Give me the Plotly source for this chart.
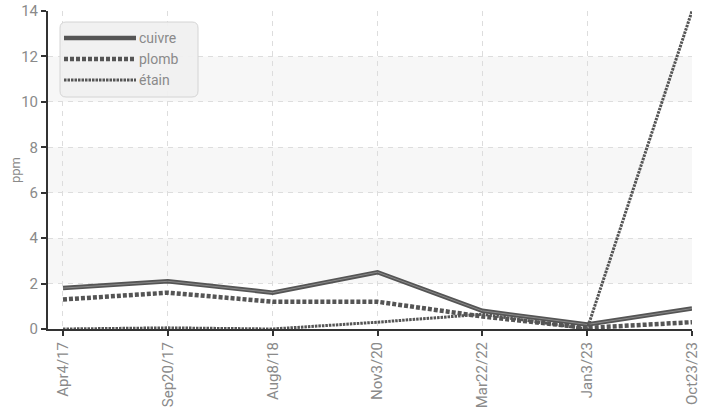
import plotly.graph_objects as go

dates = ["Apr4/17", "Sep20/17", "Aug8/18", "Nov3/20", "Mar22/22", "Jan3/23", "Oct23/23"]
cuivre = [1.8, 2.1, 1.6, 2.5, 0.8, 0.2, 0.9]
plomb = [1.3, 1.6, 1.2, 1.2, 0.55, 0.05, 0.3]
etain = [0.0, 0.05, 0.0, 0.3, 0.65, 0.0, 14.0]
y_ticks = [0, 2, 4, 6, 8, 10, 12, 14]
bands = [(2, 4), (6, 8), (10, 12)]

FONT = "Roboto, sans-serif"
DARK = "#555555"
GREY_TXT = "#8a8a8a"
GRID = "#dddddd"

CUIVRE_LINE = dict(color=DARK, width=4.5)
PLOMB_LINE = dict(color=DARK, width=4.5, dash="4px,2px")
ETAIN_LINE = dict(color=DARK, width=3, dash="2.5px,1px")

fig = go.Figure()
fig.add_trace(go.Scatter(x=dates, y=cuivre, mode="lines", line=CUIVRE_LINE, name="cuivre"))
fig.add_trace(go.Scatter(x=dates, y=cuivre, mode="lines", line=dict(color="#8a8a8a", width=1), hoverinfo="skip"))
fig.add_trace(go.Scatter(x=dates, y=plomb, mode="lines", line=PLOMB_LINE, name="plomb"))
fig.add_trace(go.Scatter(x=dates, y=etain, mode="lines", line=ETAIN_LINE, name="étain"))

shapes = []
for lo, hi in bands:
    shapes.append(dict(type="rect", xref="paper", yref="y", x0=0, x1=1, y0=lo, y1=hi,
                       fillcolor="#f7f7f7", line=dict(width=0), layer="below"))

# manual legend (paper coordinates)
W, H = 702, 409
ml, mr, mt, mb = 48, 10, 11, 80
pw, ph = W - ml - mr, H - mt - mb
def px(x):
    return (x - ml) / pw
def py(y):
    return 1 - (y - mt) / ph

x0, x1, y0, y1, r = px(60), px(198), py(22), py(97), 6
rx, ry = r / pw, r / ph
path = (f"M {x0+rx},{y0} L {x1-rx},{y0} Q {x1},{y0} {x1},{y0-ry} L {x1},{y1+ry} "
        f"Q {x1},{y1} {x1-rx},{y1} L {x0+rx},{y1} Q {x0},{y1} {x0},{y1+ry} "
        f"L {x0},{y0-ry} Q {x0},{y0} {x0+rx},{y0} Z")
shapes.append(dict(type="path", xref="paper", yref="paper", path=path,
                   fillcolor="rgba(240,240,240,0.92)", line=dict(color="#d4d4d4", width=1), layer="above"))

legend_items = [("cuivre", CUIVRE_LINE, 38), ("plomb", PLOMB_LINE, 59), ("étain", ETAIN_LINE, 80)]
annotations = []
for name, ln, yy in legend_items:
    shapes.append(dict(type="line", xref="paper", yref="paper", x0=px(64), x1=px(136),
                       y0=py(yy), y1=py(yy), line=ln, layer="above"))
    annotations.append(dict(xref="paper", yref="paper", x=px(137), y=py(yy), text=name,
                            showarrow=False, xanchor="left", yanchor="middle",
                            font=dict(family=FONT, size=14, color=GREY_TXT)))

annotations.append(dict(xref="paper", yref="paper", x=px(15), y=py(170), text="ppm", textangle=-90,
                        showarrow=False, xanchor="center", yanchor="middle",
                        font=dict(family=FONT, size=13, color=GREY_TXT)))

fig.update_layout(
    width=W, height=H,
    margin=dict(l=ml, r=mr, t=mt, b=mb),
    paper_bgcolor="white", plot_bgcolor="white",
    showlegend=False,
    shapes=shapes, annotations=annotations,
    xaxis=dict(type="category", range=[-0.143, 6], automargin=False, showgrid=True, gridcolor=GRID, griddash="5px,5px",
               gridwidth=1, showline=True, linecolor="#333333", linewidth=2,
               ticks="outside", ticklen=5, tickcolor="#333333", tickwidth=2,
               tickangle=-90, tickfont=dict(family=FONT, size=15, color=GREY_TXT), zeroline=False),
    yaxis=dict(range=[0, 14], tickvals=y_ticks, automargin=False, showgrid=True, gridcolor=GRID, griddash="5px,5px",
               gridwidth=1, showline=True, linecolor="#333333", linewidth=2,
               ticks="outside", ticklen=5, tickcolor="#333333", tickwidth=2,
               tickfont=dict(family=FONT, size=15, color=GREY_TXT), zeroline=False),
)

fig.write_html("out.html", config={"displayModeBar": False},
               post_script="document.body.style.margin='0';document.body.style.overflow='hidden';")
